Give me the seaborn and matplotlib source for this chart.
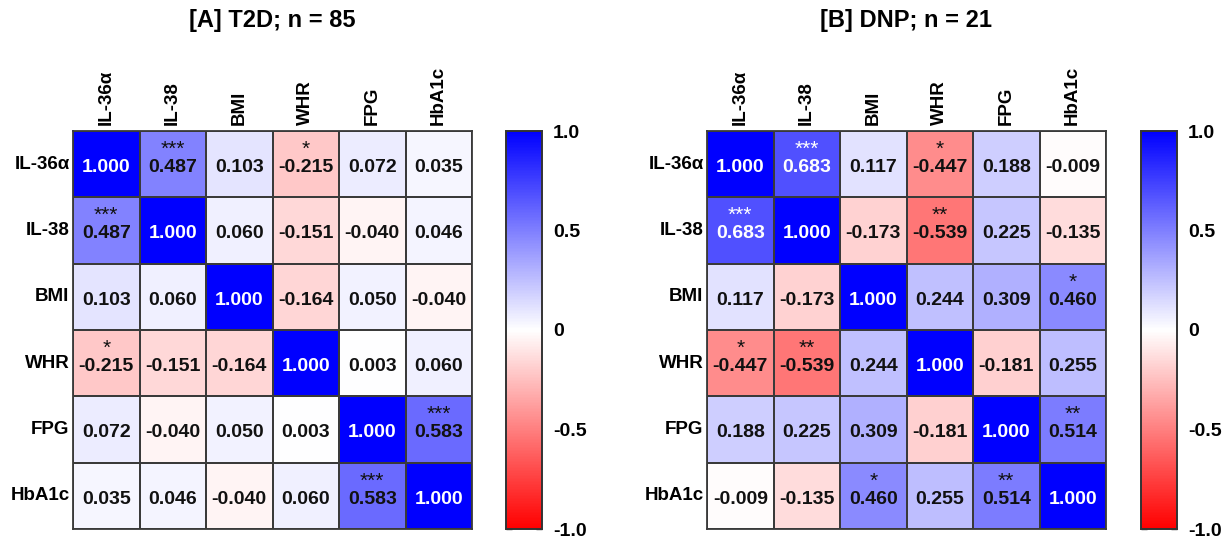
import numpy as np
import pandas as pd
import matplotlib
matplotlib.use("Agg")
import matplotlib.pyplot as plt
import seaborn as sns
from matplotlib.colors import LinearSegmentedColormap

labels = ["IL-36α", "IL-38", "BMI", "WHR", "FPG", "HbA1c"]

corr_a = [
    [1.000, 0.487, 0.103, -0.215, 0.072, 0.035],
    [0.487, 1.000, 0.060, -0.151, -0.040, 0.046],
    [0.103, 0.060, 1.000, -0.164, 0.050, -0.040],
    [-0.215, -0.151, -0.164, 1.000, 0.003, 0.060],
    [0.072, -0.040, 0.050, 0.003, 1.000, 0.583],
    [0.035, 0.046, -0.040, 0.060, 0.583, 1.000],
]
stars_a = [
    ["", "***", "", "*", "", ""],
    ["***", "", "", "", "", ""],
    ["", "", "", "", "", ""],
    ["*", "", "", "", "", ""],
    ["", "", "", "", "", "***"],
    ["", "", "", "", "***", ""],
]

corr_b = [
    [1.000, 0.683, 0.117, -0.447, 0.188, -0.009],
    [0.683, 1.000, -0.173, -0.539, 0.225, -0.135],
    [0.117, -0.173, 1.000, 0.244, 0.309, 0.460],
    [-0.447, -0.539, 0.244, 1.000, -0.181, 0.255],
    [0.188, 0.225, 0.309, -0.181, 1.000, 0.514],
    [-0.009, -0.135, 0.460, 0.255, 0.514, 1.000],
]
stars_b = [
    ["", "***", "", "*", "", ""],
    ["***", "", "", "**", "", ""],
    ["", "", "", "", "", "*"],
    ["*", "**", "", "", "", ""],
    ["", "", "", "", "", "**"],
    ["", "", "*", "", "**", ""],
]

titles = ["[A] T2D; n = 85", "[B] DNP; n = 21"]
cbar_ticks = [-1.0, -0.5, 0.0, 0.5, 1.0]
cbar_ticklabels = ["-1.0", "-0.5", "0", "0.5", "1.0"]

sns.set_style("white")
plt.rcParams["font.family"] = ["Liberation Sans", "DejaVu Sans"]
plt.rcParams["text.color"] = "black"
plt.rcParams["xtick.color"] = "black"
plt.rcParams["ytick.color"] = "black"

cmap = LinearSegmentedColormap.from_list("rwb", ["#FF0000", "#FFFFFF", "#0000FF"])

W, H = 1230, 538
fig = plt.figure(figsize=(W / 100, H / 100), dpi=100)

panels = [
    (corr_a, stars_a, titles[0], 73, 506),
    (corr_b, stars_b, titles[1], 707, 1141),
]
top_px, bot_px = 131, 529
for corr, stars, title, x0, cx0 in panels:
    ax = fig.add_axes([x0 / W, (H - bot_px) / H, 399 / W, (bot_px - top_px) / H])
    cax = fig.add_axes([cx0 / W, (H - bot_px) / H, 36 / W, (bot_px - top_px) / H])
    df = pd.DataFrame(corr, index=labels, columns=labels)
    sns.heatmap(df, ax=ax, cbar_ax=cax, cmap=cmap, vmin=-1, vmax=1,
                linewidths=1.2, linecolor="#3a3a3a", annot=False, square=False)
    n = len(labels)
    for i in range(n):
        for j in range(n):
            v = corr[i][j]
            col = "white" if abs(v) > 0.6 else "#111111"
            ax.text(j + 0.5, i + 0.55, f"{v:.3f}", ha="center", va="center",
                    fontsize=14, fontweight="bold", color=col)
            if stars[i][j]:
                ax.text(j + 0.5, i + 0.36, stars[i][j],
                        ha="center", va="baseline", fontsize=15, color=col)
    ax.xaxis.tick_top()
    ax.set_xticklabels(labels, rotation=90, fontsize=13.5, fontweight="bold")
    ax.set_yticklabels(labels, rotation=0, fontsize=13.5, fontweight="bold")
    ax.tick_params(axis="x", length=0, pad=4)
    ax.tick_params(axis="y", length=0, pad=2.5)
    ax.set_xlabel("")
    ax.set_ylabel("")
    for s in ax.spines.values():
        s.set_visible(True)
        s.set_color("#3a3a3a")
        s.set_linewidth(1.3)
    fig.text((x0 + 199.5) / W, 1 - 21 / H, title, ha="center", va="center",
             fontsize=17, fontweight="bold")
    cax.set_yticks(cbar_ticks)
    cax.set_yticklabels(cbar_ticklabels, fontsize=14, fontweight="bold")
    cax.tick_params(axis="y", direction="in", length=4, width=1, color="#333333",
                    left=True, right=True, labelleft=False, labelright=True, pad=8)
    for s in cax.spines.values():
        s.set_visible(True)
        s.set_color("#333333")
        s.set_linewidth(1.2)

fig.savefig("out.png", dpi=100)
